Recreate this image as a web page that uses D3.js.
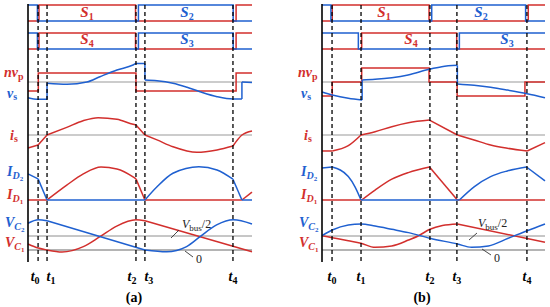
<!DOCTYPE html>
<html><head><meta charset="utf-8">
<script src="https://cdn.jsdelivr.net/npm/d3@7"></script>
<style>body{margin:0;background:#fff}svg{display:block}</style>
</head><body>
<svg id="c" width="550" height="307"></svg>
<script>
// ---------- DATA (time in % of panel width, values in row units) ----------
const tickLabels = ["t0","t1","t2","t3","t4"];
const panelLabels = ["(a)","(b)"];
const timesA = [4.5, 8.5, 48.2, 52.2, 91.5];
const timesB = [4.5, 17.5, 48.4, 60.5, 91.9];

// switching signals (step after)
const s1A = [[0,0],[4.9,1],[48.0,0],[92.9,1],[100,1]];
const s2A = [[0,1],[4.2,0],[49.3,1],[91.6,0],[100,0]];
const s4A = [[0,0],[4.9,1],[48.0,0],[92.9,1],[100,1]];
const s3A = [[0,1],[4.2,0],[49.3,1],[91.6,0],[100,0]];
const s1B = [[0,0],[4.6,1],[48.0,0],[92.5,1],[100,1]];
const s2B = [[0,1],[4.0,0],[49.2,1],[91.3,0],[100,0]];
const s4B = [[0,0],[17.8,1],[60.4,0],[100,0]];
const s3B = [[0,1],[16.3,0],[61.6,1],[100,1]];
const nvpA = [[0,-1],[4.6,1],[48.2,-1],[92.9,1],[100,1]];
const nvpB = [[0,-1.55],[4.6,0],[17.8,1.55],[48.0,0],[60.6,-1.55],[91.0,0],[100,0]];

// waveforms as continuous pieces
const vsA = [
  [[0,-1.74],[4.5,-1.92],[8.5,-1.92]],
  [[8.5,-1.92],[8.5,-0.14]],
  [[8.5,-0.14],[17.4,-0.26],[26.3,0],[32.1,0.59],[39.7,1.33],[46.9,1.89],[48.2,2.05],[52.2,2.05]],
  [[52.2,2.05],[52.2,0.22]],
  [[52.2,0.22],[57.6,0.14],[64.7,-0.14],[71.0,-0.59],[76.8,-1.08],[84.4,-1.63],[91.5,-1.89],[95.5,-1.89]],
  [[95.5,-1.89],[95.5,0]],
  [[95.5,0],[100,-0.05]]
];
const isA = [
  [[0,-0.76],[4.5,-0.59]],
  [[4.5,-0.59],[8.5,0]],
  [[8.5,0],[17.3,0.45],[24.6,0.84],[31.3,1.02],[39.7,0.92],[46.9,0.63],[48.2,0.59]],
  [[48.2,0.59],[52.2,0]],
  [[52.2,0],[57.6,-0.29],[64.7,-0.69],[75.4,-1.02],[84.4,-0.88],[91.5,-0.65]],
  [[91.5,-0.65],[95.5,0],[100,0.24]]
];
const id2A = [
  [[0,0.79],[4.5,0.64]],
  [[4.5,0.64],[8.5,0]],
  [[8.5,0],[52.2,0]],
  [[52.2,0],[57.6,0.40],[64.7,0.81],[76.3,1.01],[84.4,0.91],[91.5,0.63]],
  [[91.5,0.63],[95.5,0]],
  [[95.5,0],[100,0]]
];
const id1A = [
  [[0,0],[8.5,0]],
  [[8.5,0],[17.3,0.45],[24.7,0.79],[32.6,1.0],[39.7,0.94],[46.9,0.70],[48.2,0.64]],
  [[48.2,0.64],[52.2,0]],
  [[52.2,0],[95.5,0]],
  [[95.5,0],[100,0.24]]
];
const vc2A = [
  [[0,1.91],[4.6,2.16],[8.5,2.09]],
  [[8.5,2.09],[52.2,0]],
  [[52.2,0],[61.9,-0.13],[70.8,0.24],[76.8,0.95],[84.2,1.79],[91.7,2.16],[100,1.86]]
];
const vc1A = [
  [[0,0.43],[4.6,0.14],[8.5,0],[15.2,-0.14],[24.7,0.24],[32.1,0.95],[39.6,1.71],[48.2,2.16],[52.2,2.09]],
  [[52.2,2.09],[100,-0.12]]
];

const vsB = [
  [[0,-1.11],[4.6,-1.44],[11.8,-1.81],[18.0,-2.0]],
  [[18.0,-2.0],[18.0,0.22]],
  [[18.0,0.22],[23.8,0.30],[31.3,0.48],[38.6,0.78],[48.0,1.41],[53.7,1.70],[60.7,1.85]],
  [[60.7,1.85],[60.7,-0.22]],
  [[60.7,-0.22],[68.2,-0.37],[75.6,-0.59],[83,-0.89],[92,-1.3],[100,-1.75]]
];
const isB = [
  [[0,-0.94],[4.6,-0.94]],
  [[4.6,-0.94],[11.8,-0.63],[17.5,0]],
  [[17.5,0],[23.8,0.19],[31.3,0.49],[38.7,0.72],[48.2,0.88]],
  [[48.2,0.88],[60.7,0]],
  [[60.7,0],[68.2,-0.29],[75.6,-0.59],[83.1,-0.78],[92,-0.94]],
  [[92,-0.94],[100,-0.45]]
];
const id2B = [
  [[0,0.97],[4.6,1.0]],
  [[4.6,1.0],[11.8,0.71],[14.8,0.40],[17.5,0]],
  [[17.5,0],[61.6,0]],
  [[61.6,0],[68.2,0.40],[75.6,0.71],[83.1,0.88],[91.7,1.0]],
  [[91.7,1.0],[100,0.58]]
];
const id1B = [
  [[0,0],[17.8,0]],
  [[17.8,0],[23.8,0.30],[31.3,0.63],[38.7,0.83],[48.2,1.0]],
  [[48.2,1.0],[60.7,0]],
  [[60.7,0],[100,0]]
];
const vc2B = [
  [[0,1.02],[4.6,1.43],[11.8,1.79],[17.5,1.86],[23.8,1.71],[31.3,1.48],[38.8,1.24],[48.4,0.84],[60.7,0.43],[67.1,0.19],[74.6,0.29],[83.5,0.84],[92,1.38],[100,1.86]]
];
const vc1B = [
  [[0,1.02],[4.6,0.88],[11.8,0.66],[17.5,0.48],[23.8,0.19],[31.3,0.29],[38.8,0.71],[43.3,1.02],[48.4,1.48],[54,1.75],[60.7,1.86]],
  [[60.7,1.86],[100,0.55]]
];

// ---------- LAYOUT ----------
const RED = "#d22f2d", BLUE = "#1f60d0", SERIF = "'Liberation Serif', 'DejaVu Serif', serif";
const svg = d3.select("#c");

const panels = [
  { x0:28, x1:252, times:timesA, tShift:[-3,4,-4,4,0], label:panelLabels[0], labelX:134,
    s1:s1A, s2:s2A, s3:s3A, s4:s4A, nvp:nvpA, vs:vsA, is:isA, id2:id2A, id1:id1A, vc2:vc2A, vc1:vc1A,
    sLab:{s1:87, s2:187, s4:87, s3:187}, vbus:[182,228,171,238,179,230], zero:[196,263,185,251,193,257] },
  { x0:322, x1:545, times:timesB, tShift:[0,0,0,0,0], label:panelLabels[1], labelX:422,
    s1:s1B, s2:s2B, s3:s3B, s4:s4B, nvp:nvpB, vs:vsB, is:isB, id2:id2B, id1:id1B, vc2:vc2B, vc1:vc1B,
    sLab:{s1:384, s2:481, s4:411, s3:507}, vbus:[478,227,469,240,477,233], zero:[494,262,482,249,491,255] }
];

function richText(g, x, y, parts, color, anchor, weight) {
  const t = g.append("text").attr("x", x).attr("y", y).attr("fill", color)
    .attr("font-family", SERIF).attr("font-weight", weight || "bold")
    .attr("text-anchor", anchor || "start");
  parts.forEach(p => {
    t.append("tspan").text(p[0]).attr("font-size", p[1])
      .attr("font-style", p[2] ? "italic" : "normal").attr("dy", p[3] || 0);
  });
  return t;
}

panels.forEach(p => {
  const x = d3.scaleLinear().domain([0,100]).range([p.x0, p.x1]);
  const row = (zero, unit) => d3.scaleLinear().domain([0,1]).range([zero, zero - unit]);
  const yS1 = row(21,16), yS4 = row(49,16), yV = row(82,9), yI = row(135,17), yD = row(200,33), yC = row(250,14);
  const g = svg.append("g");

  // reference lines
  [[yV(0),"#999",1],[yI(0),"#999",1],[yC(1),"#8e8e8e",1],[yC(0),"#b4b4b4",2]].forEach(r => {
    g.append("line").attr("x1", x(0)).attr("x2", x(100)).attr("y1", r[0]).attr("y2", r[0])
      .attr("stroke", r[1]).attr("stroke-width", r[2]);
  });

  const step = y => d3.line().x(d => x(d[0])).y(d => y(d[1])).curve(d3.curveStepAfter);
  const smooth = y => d3.line().x(d => x(d[0])).y(d => y(d[1])).curve(d3.curveMonotoneX);
  const drawStep = (data, y, c) => g.append("path").attr("d", step(y)(data)).attr("fill","none")
      .attr("stroke", c).attr("stroke-width", 1.5);
  const drawWave = (pieces, y, c) => pieces.forEach(pc => g.append("path").attr("d", smooth(y)(pc))
      .attr("fill","none").attr("stroke", c).attr("stroke-width", 1.5).attr("stroke-linejoin","round"));

  drawStep(p.s1, yS1, RED); drawStep(p.s2, yS1, BLUE);
  drawStep(p.s4, yS4, RED); drawStep(p.s3, yS4, BLUE);
  drawStep(p.nvp, yV, RED); drawWave(p.vs, yV, BLUE);
  drawWave(p.is, yI, RED);
  drawWave(p.id1, yD, RED); drawWave(p.id2, yD, BLUE);
  drawWave(p.vc1, yC, RED); drawWave(p.vc2, yC, BLUE);

  // vertical axis
  g.append("line").attr("x1", x(0)).attr("x2", x(0)).attr("y1", 4).attr("y2", 262)
    .attr("stroke", "#000").attr("stroke-width", 1.6);

  // dashed time markers
  p.times.forEach((t, i) => {
    g.append("line").attr("x1", x(t)).attr("x2", x(t)).attr("y1", 5).attr("y2", 263)
      .attr("stroke", "#000").attr("stroke-width", 1.3).attr("stroke-dasharray", "4,3");
    const lab = tickLabels[i];
    richText(g, x(t) + p.tShift[i], 281, [[lab[0],14,true],[lab.slice(1),10,false,3]], "#000", "middle");
  });

  // switch labels
  richText(g, p.sLab.s1, 17, [["S",15,true],["1",10,false,3]], RED, "middle");
  richText(g, p.sLab.s2, 17, [["S",15,true],["2",10,false,3]], BLUE, "middle");
  richText(g, p.sLab.s4, 44, [["S",15,true],["4",10,false,3]], RED, "middle");
  richText(g, p.sLab.s3, 44, [["S",15,true],["3",10,false,3]], BLUE, "middle");

  // row labels
  const ax = x(0);
  richText(g, ax-24, 77, [["nv",14,true],["p",10,false,3]], RED);
  richText(g, ax-21, 98, [["v",14,true],["s",10,false,2]], BLUE);
  richText(g, ax-18, 140, [["i",14,true],["s",10,false,2]], RED);
  richText(g, ax-21, 176, [["I",14,true],["D",10,true,3],["2",7,false,2]], BLUE);
  richText(g, ax-21, 199, [["I",14,true],["D",10,true,3],["1",7,false,2]], RED);
  richText(g, ax-23, 227, [["V",14,true],["C",10,true,3],["2",7,false,2]], BLUE);
  richText(g, ax-23, 247, [["V",14,true],["C",10,true,3],["1",7,false,2]], RED);

  // Vbus/2 and 0 annotations
  const vb = p.vbus, z = p.zero;
  g.append("line").attr("x1", vb[2]).attr("y1", vb[3]).attr("x2", vb[4]).attr("y2", vb[5]).attr("stroke","#333").attr("stroke-width",0.9);
  richText(g, vb[0], vb[1], [["V",12,true],["bus",9,false,3],["/2",12,false,-3]], "#222", "start", "normal");
  g.append("line").attr("x1", z[2]).attr("y1", z[3]).attr("x2", z[4]).attr("y2", z[5]).attr("stroke","#333").attr("stroke-width",0.9);
  richText(g, z[0], z[1], [["0",12,false]], "#222", "start", "normal");

  // panel label
  richText(g, p.labelX, 302, [[p.label,14,false]], "#000", "middle");
});
</script>
</body></html>
